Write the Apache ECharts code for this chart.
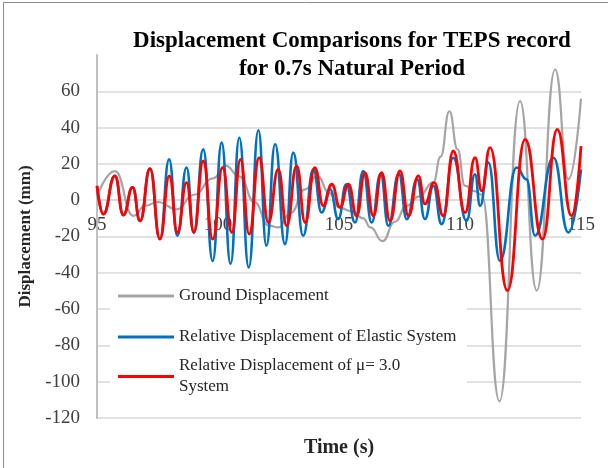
<!DOCTYPE html>
<html>
<head>
<meta charset="utf-8">
<title>Displacement Comparisons</title>
<script src="https://cdn.jsdelivr.net/npm/echarts@6/dist/echarts.min.js"></script>
</head>
<body style="margin:0">
<div id="main" style="width:608px;height:468px;"></div>
<script>
// values (time in s, displacement in mm), peaks and troughs
var groundT = [95.0, 95.74, 96.5, 97.0, 97.5, 98.3, 99.0, 99.8, 100.3, 100.9, 101.5, 102.1, 102.5, 103.0, 103.6, 104.1, 104.6, 105.0, 105.5, 106.0, 106.3, 106.8, 107.3, 107.8, 108.3, 108.9, 109.2, 109.56, 109.9, 110.2, 110.6, 110.9, 111.63, 112.48, 113.17, 113.93, 114.48, 115.0];
var groundV = [2, 16, -8.6, -3, -1, -5, 3, 12, 19, 13, -1, -14, -15, -7, 6, 13.4, 4, -4, -6, -10, -15, -22.6, -12, -3, 2, 10, 24, 49, 28, 8, 5, 3, -110.8, 54.6, -49.8, 72, 11.5, 56];

var elasticT = [95.0, 95.26, 95.74, 96.09, 96.47, 96.78, 97.19, 97.6, 97.98, 98.32, 98.7, 99.0, 99.39, 99.78, 100.15, 100.52, 100.88, 101.27, 101.67, 102.0, 102.36, 102.77, 103.11, 103.52, 103.94, 104.28, 104.63, 104.97, 105.3, 105.66, 106.0, 106.35, 106.72, 107.04, 107.47, 107.8, 108.23, 108.55, 108.9, 109.24, 109.72, 110.27, 110.62, 110.83, 111.17, 111.65, 112.34, 112.75, 113.1, 113.86, 114.48, 115.0];
var elasticV = [7.9, -7.7, 13.4, -8.2, 7.1, -11.4, 17.4, -21.4, 22.5, -19.6, 18, -18, 28, -33.5, 31.7, -35, 34.4, -37, 38.5, -25, 30.8, -24.2, 26.2, -19.6, 17, -6.8, 6, -10.4, 8.8, -12.3, 16.1, -12.3, 14.5, -14.1, 14.5, -10.4, 11.5, -10.4, 7.9, -13.2, 23.4, -11.4, 14.3, -3.1, 20.7, -33.3, 18, 11.5, -19.6, 23.4, -17.8, 17];

var muT = [95.0, 95.26, 95.74, 96.09, 96.47, 96.78, 97.19, 97.6, 97.99, 98.32, 98.7, 99.0, 99.39, 99.78, 100.19, 100.57, 100.93, 101.29, 101.7, 102.08, 102.49, 102.84, 103.25, 103.6, 104.0, 104.35, 104.7, 105.04, 105.39, 105.73, 106.07, 106.42, 106.76, 107.11, 107.52, 107.87, 108.28, 108.55, 108.93, 109.31, 109.72, 110.21, 110.62, 110.9, 111.24, 111.96, 112.69, 113.41, 114.02, 114.61, 115.0];
var muV = [7.9, -7.7, 13.4, -8.2, 7.1, -11.4, 17.4, -21.4, 13.4, -17.8, 9.7, -17.6, 21.6, -21.4, 18, -17.8, 22.5, -18.7, 23.4, -12.3, 17, -14.1, 18.9, -12.3, 18, -3.1, 8.8, -4, 8.8, -8.6, 15.2, -8.6, 15.2, -11.4, 16.1, -8.6, 13.4, -2, 9.7, -8.6, 27.1, -6.8, 23.4, 5.1, 29, -49.8, 33.5, -21.4, 39, -8.6, 29.8];

var seriesNames = ['Ground Displacement', 'Relative Displacement of Elastic System', 'Relative Displacement of \u03bc= 3.0 System'];

function pairs(t, v) {
    var res = [];
    for (var i = 0; i < t.length; i++) {
        res.push([t[i], v[i]]);
    }
    return res;
}

var serif = 'Liberation Serif';
var myChart = echarts.init(document.getElementById('main'));

var option = {
    animation: false,
    backgroundColor: '#fff',
    title: {
        text: 'Displacement Comparisons for TEPS record\nfor 0.7s Natural Period',
        left: 347,
        top: 22,
        textAlign: 'center',
        textStyle: {
            fontFamily: serif,
            fontWeight: 'bold',
            fontSize: 23,
            lineHeight: 28,
            color: '#000'
        }
    },
    grid: {
        left: 97,
        right: 27,
        top: 55,
        bottom: 50,
        outerBoundsMode: 'none'
    },
    legend: [{
        data: [seriesNames[0], seriesNames[1]],
        orient: 'vertical',
        left: 118,
        top: 286,
        padding: 0,
        itemGap: 21,
        itemWidth: 56,
        itemHeight: 3,
        icon: 'rect',
        textStyle: {fontFamily: serif, fontSize: 17, lineHeight: 20, color: '#262626'}
    }, {
        data: [seriesNames[2]],
        orient: 'vertical',
        left: 118,
        top: 345,
        padding: 0,
        itemWidth: 56,
        itemHeight: 3,
        icon: 'rect',
        formatter: function () {
            return 'Relative Displacement of \u03bc= 3.0\nSystem';
        },
        textStyle: {fontFamily: serif, fontSize: 17, lineHeight: 21, color: '#262626', padding: [21, 0, 0, 0]}
    }],
    xAxis: {
        type: 'value',
        min: 95,
        max: 115,
        interval: 5,
        // axis sits on the zero line, labels just below it
        offset: -217.8,
        name: 'Time (s)',
        nameLocation: 'middle',
        nameGap: 238,
        nameTextStyle: {fontFamily: serif, fontWeight: 'bold', fontSize: 20, color: '#262626'},
        axisLine: {show: true, onZero: false, lineStyle: {color: '#d9d9d9', width: 1.5}},
        axisTick: {show: false},
        splitLine: {show: false},
        axisLabel: {fontFamily: serif, fontSize: 19, color: '#404040', margin: 15}
    },
    yAxis: {
        type: 'value',
        min: -120,
        max: 80,
        interval: 20,
        name: 'Displacement (mm)',
        nameLocation: 'middle',
        nameGap: 57,
        nameTextStyle: {fontFamily: serif, fontWeight: 'bold', fontSize: 17, color: '#262626'},
        axisLine: {show: true, lineStyle: {color: '#c0c0c0', width: 2}},
        axisTick: {show: false},
        splitLine: {show: true, showMaxLine: false, lineStyle: {color: '#d9d9d9', width: 1.5}},
        axisLabel: {fontFamily: serif, fontSize: 19, color: '#404040', margin: 17, showMaxLabel: false}
    },
    graphic: [
        // white box behind legend
        {type: 'rect', z: 1, shape: {x: 110, y: 279, width: 357, height: 133}, style: {fill: '#fff'}},
        // chart border (top and left only)
        {type: 'line', z: 10, shape: {x1: 3.5, y1: 2.5, x2: 608, y2: 2.5}, style: {stroke: '#8c8c8c', lineWidth: 1}},
        {type: 'line', z: 10, shape: {x1: 3.5, y1: 2.5, x2: 3.5, y2: 468}, style: {stroke: '#8c8c8c', lineWidth: 1}}
    ],
    series: [{
        name: seriesNames[0],
        type: 'line',
        data: pairs(groundT, groundV),
        smooth: 0.5,
        smoothMonotone: 'x',
        showSymbol: false,
        color: '#a5a5a5',
        lineStyle: {width: 2.2, color: '#a5a5a5'}
    }, {
        name: seriesNames[1],
        type: 'line',
        data: pairs(elasticT, elasticV),
        smooth: 0.5,
        smoothMonotone: 'x',
        showSymbol: false,
        color: '#0070c0',
        lineStyle: {width: 2.6, color: '#0070c0'}
    }, {
        name: seriesNames[2],
        type: 'line',
        data: pairs(muT, muV),
        smooth: 0.5,
        smoothMonotone: 'x',
        showSymbol: false,
        color: '#ff0000',
        lineStyle: {width: 2.8, color: '#ff0000'}
    }]
};

myChart.setOption(option);
</script>
</body>
</html>
